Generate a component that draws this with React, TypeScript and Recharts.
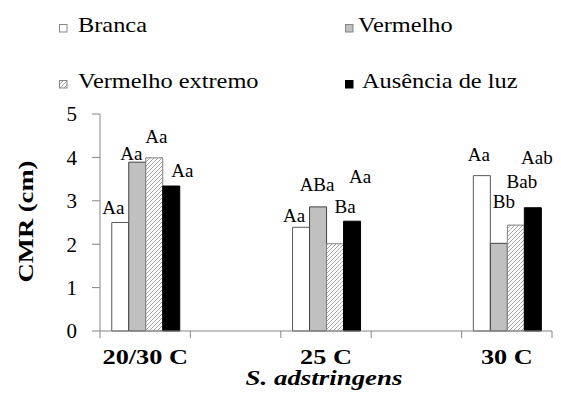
import { BarChart, Bar, XAxis, YAxis, Legend, LabelList, Label } from 'recharts'

// temperature groups (empty slots keep the wide spacing of the original)
const groups = ['20/30 C', '', '25 C', '', '30 C']

// CMR (cm) per light treatment
const branca = [2.5, null, 2.39, null, 3.58]
const vermelho = [3.89, null, 2.86, null, 2.02]
const vermelhoExtremo = [3.99, null, 2.01, null, 2.44]
const ausencia = [3.34, null, 2.53, null, 2.84]

// significance letters
const brancaLetters = ['Aa', '', 'Aa', '', 'Aa']
const vermelhoLetters = ['Aa', '', 'ABa', '', 'Bb']
const extremoLetters = ['Aa', '', 'Ba', '', 'Bab']
const ausenciaLetters = ['Aa', '', 'Aa', '', 'Aab']

const yTicks = [0, 1, 2, 3, 4, 5]

const data = groups.map((group, i) => ({
  group,
  branca: branca[i],
  vermelho: vermelho[i],
  extremo: vermelhoExtremo[i],
  ausencia: ausencia[i],
  brancaL: brancaLetters[i],
  vermelhoL: vermelhoLetters[i],
  extremoL: extremoLetters[i],
  ausenciaL: ausenciaLetters[i],
}))

// label nudges (dx, dy from bar top centre), as placed in the original
const nudges: Record<string, [number, number][]> = {
  branca: [[-7, -9], [0, 0], [-7, -5], [0, 0], [-3, -15]],
  vermelho: [[-6, -2], [0, 0], [-1, -16], [0, 0], [5, -35]],
  extremo: [[2, -15], [0, 0], [10, -31], [0, 0], [6, -37]],
  ausencia: [[11, -9], [0, 0], [8, -38], [0, 0], [4, -44]],
}

const series = [
  { key: 'branca', name: 'Branca', fill: '#ffffff', stroke: '#595959' },
  { key: 'vermelho', name: 'Vermelho', fill: '#c0c0c0', stroke: '#404040' },
  { key: 'extremo', name: 'Vermelho extremo', fill: 'url(#hatch)', stroke: '#808080' },
  { key: 'ausencia', name: 'Ausência de luz', fill: '#000000', stroke: '#000000' },
]

const W = 561
const H = 412
const margin = { top: 114, right: 9, bottom: 21, left: 40 }
const Y_AXIS_W = 60
const X_AXIS_H = 60
const PLOT_LEFT = margin.left + Y_AXIS_W
const PLOT_W = W - margin.left - margin.right - Y_AXIS_W
const BAND = PLOT_W / groups.length
const FONT = 'Liberation Serif, Times New Roman, serif'
const GRAY = '#868686'

const makeLabel = (key: string) => (props: any) => {
  const { x, y, width, value } = props
  if (!value || x == null || y == null) return null
  const cx = x + width / 2
  const gi = Math.floor((cx - PLOT_LEFT) / BAND)
  const [dx, dy] = nudges[key][gi] || [0, 0]
  return (
    <text x={cx + dx} y={y + dy} textAnchor="middle" fontFamily={FONT} fontSize={19} fill="#000">
      {value}
    </text>
  )
}

const CategoryTick = (props: any) => {
  const { x, y, payload, index } = props
  const axisY = y - 7
  const left = x - BAND / 2
  const right = x + BAND / 2
  return (
    <g>
      <line x1={left} y1={axisY} x2={left} y2={axisY + 7} stroke={GRAY} />
      {index === groups.length - 1 && <line x1={right} y1={axisY} x2={right} y2={axisY + 7} stroke={GRAY} />}
      {payload.value && (
        <text
          transform={`translate(${x},${axisY + 33}) scale(1.25,1)`}
          textAnchor="middle"
          fontFamily={FONT}
          fontWeight="bold"
          fontSize={21}
          fill="#000"
        >
          {payload.value}
        </text>
      )}
    </g>
  )
}

const LegendBox = () => {
  const pos = [
    [59, 24, 78],
    [345, 24, 358],
    [59, 80, 78],
    [345, 80, 362],
  ]
  return (
    <svg width={W} height={100} style={{ display: 'block' }}>
      <defs>
        <pattern id="hatch" patternUnits="userSpaceOnUse" width="4" height="4">
          <rect width="4" height="4" fill="#fff" />
          <path d="M-1,1 l2,-2 M0,4 l4,-4 M3,5 l2,-2" stroke="#9a9a9a" strokeWidth="0.9" />
        </pattern>
      </defs>
      {series.map((s, i) => {
        const [mx, my, tx] = pos[i]
        return (
          <g key={s.key}>
            <rect x={mx + 0.5} y={my + 0.5} width={7.5} height={7.5} fill={s.fill} stroke={s.key === 'ausencia' ? '#000' : GRAY} />
            <text
              transform={`translate(${tx},${my + 8}) scale(1.16,1)`}
              fontFamily={FONT}
              fontSize={21}
              fill="#000"
            >
              {s.name}
            </text>
          </g>
        )
      })}
    </svg>
  )
}

export default function App() {
  return (
    <div style={{ margin: -8, width: W, height: H, background: '#fff' }}>
      <BarChart width={W} height={H} data={data} margin={margin} barCategoryGap="13%" barGap={0}>
        <Legend
          layout="vertical"
          verticalAlign="middle"
          align="center"
          content={() => <LegendBox />}
          wrapperStyle={{ top: 0, left: 0, width: W, height: 100 }}
        />
        <XAxis
          dataKey="group"
          interval={0}
          axisLine={{ stroke: GRAY }}
          tickLine={false}
          tickSize={7}
          tickMargin={0}
          height={X_AXIS_H}
          tick={<CategoryTick />}
        >
          <Label
            content={(p: any) => {
              const vb = p.viewBox || {}
              return (
                <text
                  transform={`translate(${vb.x + vb.width / 2 - 2},${vb.y + 54}) scale(1.28,1)`}
                  textAnchor="middle"
                  fontFamily={FONT}
                  fontWeight="bold"
                  fontStyle="italic"
                  fontSize={21}
                  fill="#000"
                >
                  S. adstringens
                </text>
              )
            }}
          />
        </XAxis>
        <YAxis
          width={Y_AXIS_W}
          domain={[0, 5]}
          ticks={yTicks}
          interval={0}
          axisLine={{ stroke: GRAY }}
          tickLine={{ stroke: GRAY }}
          tickSize={8}
          tickMargin={15}
          tick={{ fontFamily: FONT, fontSize: 21, fill: '#000' }}
        >
          <Label
            content={(p: any) => {
              const vb = p.viewBox || {}
              return (
                <text
                  transform={`translate(25,${vb.y + vb.height / 2 - 1}) rotate(-90) scale(1.21,1)`}
                  textAnchor="middle"
                  dominantBaseline="central"
                  fontFamily={FONT}
                  fontWeight="bold"
                  fontSize={22}
                  fill="#000"
                >
                  CMR (cm)
                </text>
              )
            }}
          />
        </YAxis>
        {series.map((s) => (
          <Bar key={s.key} dataKey={s.key} name={s.name} fill={s.fill} stroke={s.stroke} strokeWidth={1} isAnimationActive={false}>
            <LabelList dataKey={`${s.key}L`} content={makeLabel(s.key)} />
          </Bar>
        ))}
      </BarChart>
    </div>
  )
}
